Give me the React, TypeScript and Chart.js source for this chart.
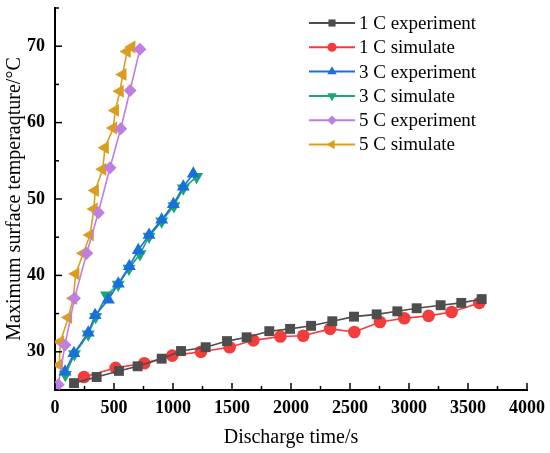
import { useEffect, useRef } from "react";
import { Chart, registerables, ChartOptions, Plugin } from "chart.js";
import { drawPoint } from "chart.js/helpers";

Chart.register(...registerables);

// discharge time (s) and max surface temperature (°C)
const exp1Time = [161, 353, 542, 700, 904, 1068, 1277, 1458, 1624, 1816, 1992, 2170, 2350, 2534, 2726, 2901, 3065, 3268, 3443, 3616];
const exp1Temp = [25.9, 26.7, 27.5, 28.1, 29.1, 30.1, 30.6, 31.4, 31.9, 32.7, 33.0, 33.4, 34.0, 34.6, 34.9, 35.3, 35.7, 36.1, 36.4, 36.9];

const sim1Time = [246, 514, 757, 994, 1237, 1480, 1681, 1910, 2104, 2331, 2537, 2754, 2960, 3166, 3361, 3596];
const sim1Temp = [26.7, 27.9, 28.5, 29.5, 30.0, 30.6, 31.5, 32.0, 32.1, 33.0, 32.6, 33.9, 34.4, 34.7, 35.2, 36.4];

const exp3Time = [85, 160, 282, 340, 452, 536, 630, 706, 797, 904, 1003, 1087, 1172];
const exp3Temp = [27.4, 29.8, 32.5, 34.8, 36.8, 38.9, 41.2, 43.3, 45.3, 47.3, 49.3, 51.6, 53.3];

const sim3Time = [88, 165, 282, 345, 437, 536, 627, 720, 797, 904, 1008, 1087, 1200];
const sim3Temp = [27.0, 29.7, 32.3, 34.6, 37.4, 38.8, 40.9, 42.8, 45.1, 47.1, 49.1, 51.4, 52.9];

const exp5Time = [28, 85, 165, 269, 367, 466, 557, 636, 720];
const exp5Temp = [25.7, 30.9, 37.0, 42.9, 48.2, 54.1, 59.2, 64.2, 69.6];

const sim5Time = [36, 45, 113, 155, 175, 240, 297, 330, 340, 404, 424, 494, 510, 551, 574, 610, 650];
const sim5Temp = [28.3, 31.3, 34.5, 37.0, 40.2, 42.9, 45.3, 48.7, 51.1, 53.9, 56.7, 59.3, 61.6, 64.1, 66.3, 69.3, 69.9];

const seriesLabels = ["1 C experiment", "1 C simulate", "3 C experiment", "3 C simulate", "5 C experiment", "5 C simulate"];
const xTicks = [0, 500, 1000, 1500, 2000, 2500, 3000, 3500, 4000];
const yTicks = [30, 40, 50, 60, 70];

const SERIF = "'Liberation Serif', 'Times New Roman', serif";

const pts = (t: number[], v: number[]) => t.map((x, i) => ({ x, y: v[i] }));

const styles = [
  { color: "#4d4d4d", pointStyle: "rect", rotation: 0, radius: 7 },
  { color: "#f33c3c", pointStyle: "circle", rotation: 0, radius: 6.3 },
  { color: "#1a6fdf", pointStyle: "triangle", rotation: 0, radius: 7.5 },
  { color: "#16a86c", pointStyle: "triangle", rotation: 180, radius: 7.5 },
  { color: "#c07ee0", pointStyle: "rectRot", rotation: 0, radius: 6.5 },
  { color: "#db9d1f", pointStyle: "triangle", rotation: -90, radius: 7.5 },
];

// inward ticks, Origin style
const innerTicks: Plugin<"line"> = {
  id: "innerTicks",
  afterDraw(chart) {
    const { ctx, chartArea } = chart;
    const xs = chart.scales.x;
    const ys = chart.scales.y;
    ctx.save();
    ctx.strokeStyle = "#000";
    ctx.lineWidth = 1.5;
    for (let v = 0; v <= 4000; v += 250) {
      const px = xs.getPixelForValue(v);
      const len = v % 500 === 0 ? 7 : 4;
      ctx.beginPath();
      ctx.moveTo(px, chartArea.bottom);
      ctx.lineTo(px, chartArea.bottom - len);
      ctx.stroke();
    }
    for (let v = 25; v <= 75; v += 5) {
      const py = ys.getPixelForValue(v);
      const len = v % 10 === 0 ? 7 : 4;
      ctx.beginPath();
      ctx.moveTo(chartArea.left, py);
      ctx.lineTo(chartArea.left + len, py);
      ctx.stroke();
    }
    ctx.restore();
  },
};

// legend inside the plot, line + marker like Origin
const innerLegend: Plugin<"line"> = {
  id: "innerLegend",
  afterDraw(chart) {
    const { ctx } = chart;
    ctx.save();
    chart.data.datasets.forEach((ds, i) => {
      const st = styles[i];
      const y = 23 + i * 24.3;
      ctx.strokeStyle = st.color;
      ctx.lineWidth = 2;
      ctx.beginPath();
      ctx.moveTo(309, y);
      ctx.lineTo(355, y);
      ctx.stroke();
      ctx.fillStyle = st.color;
      ctx.strokeStyle = st.color;
      drawPoint(ctx, { pointStyle: st.pointStyle as any, rotation: st.rotation, radius: st.radius * 0.72, borderWidth: 0 }, 332, y);
      ctx.fillStyle = "#000";
      ctx.font = `19px ${SERIF}`;
      ctx.textBaseline = "middle";
      ctx.textAlign = "left";
      ctx.fillText(ds.label ?? "", 359, y + 1);
    });
    ctx.restore();
  },
};

export default function App() {
  const canvasRef = useRef<HTMLCanvasElement | null>(null);
  const chartRef = useRef<Chart<"line"> | null>(null);

  useEffect(() => {
    document.body.style.margin = "0";
    if (!canvasRef.current) return;
    if (chartRef.current) chartRef.current.destroy();

    const series = [
      pts(exp1Time, exp1Temp),
      pts(sim1Time, sim1Temp),
      pts(exp3Time, exp3Temp),
      pts(sim3Time, sim3Temp),
      pts(exp5Time, exp5Temp),
      pts(sim5Time, sim5Temp),
    ];

    const datasets = series.map((data, i) => ({
      label: seriesLabels[i],
      data,
      borderColor: styles[i].color,
      backgroundColor: styles[i].color,
      borderWidth: 1.6,
      pointStyle: styles[i].pointStyle as any,
      pointRotation: styles[i].rotation,
      pointRadius: styles[i].radius,
      pointBorderWidth: 0,
      pointBackgroundColor: styles[i].color,
      tension: 0,
    }));

    const options: ChartOptions<"line"> = {
      animation: false,
      responsive: true,
      maintainAspectRatio: false,
      layout: { padding: { top: 8, right: 23, left: 0, bottom: 0 } },
      plugins: {
        legend: { display: false },
        tooltip: { enabled: false },
      },
      scales: {
        x: {
          type: "linear",
          min: 0,
          max: 4000,
          afterBuildTicks: (s) => {
            s.ticks = xTicks.map((value) => ({ value }));
          },
          afterFit: (s) => {
            s.height = 63;
            s.paddingLeft = 0;
            s.paddingRight = 0;
          },
          grid: { display: true, drawOnChartArea: false, drawTicks: false },
          border: { color: "#000", width: 2 },
          ticks: {
            padding: 8,
            color: "#000",
            font: { family: SERIF, size: 18, weight: "bold" },
            callback: (v) => String(v),
          },
          title: {
            display: true,
            text: "Discharge time/s",
            color: "#000",
            padding: { top: 0, bottom: 3 },
            font: { family: SERIF, size: 20 },
          },
        },
        y: {
          type: "linear",
          min: 25,
          max: 75,
          afterBuildTicks: (s) => {
            s.ticks = yTicks.map((value) => ({ value }));
          },
          afterFit: (s) => {
            s.width = 55;
            s.paddingTop = 0;
            s.paddingBottom = 0;
          },
          grid: { display: true, drawOnChartArea: false, drawTicks: false },
          border: { color: "#000", width: 2 },
          ticks: {
            padding: 10,
            color: "#000",
            font: { family: SERIF, size: 18, weight: "bold" },
            callback: (v) => String(v),
          },
          title: {
            display: true,
            text: "Maximum surface temperaqture/°C",
            color: "#000",
            padding: { top: 3, bottom: 0 },
            font: { family: SERIF, size: 20 },
          },
        },
      },
    };

    chartRef.current = new Chart(canvasRef.current, {
      type: "line",
      data: { datasets },
      options,
      plugins: [innerTicks, innerLegend],
    });

    return () => {
      if (chartRef.current) {
        chartRef.current.destroy();
        chartRef.current = null;
      }
    };
  }, []);

  return (
    <div style={{ width: 550, height: 453, position: "relative", background: "#fff" }}>
      <canvas ref={canvasRef}></canvas>
    </div>
  );
}
